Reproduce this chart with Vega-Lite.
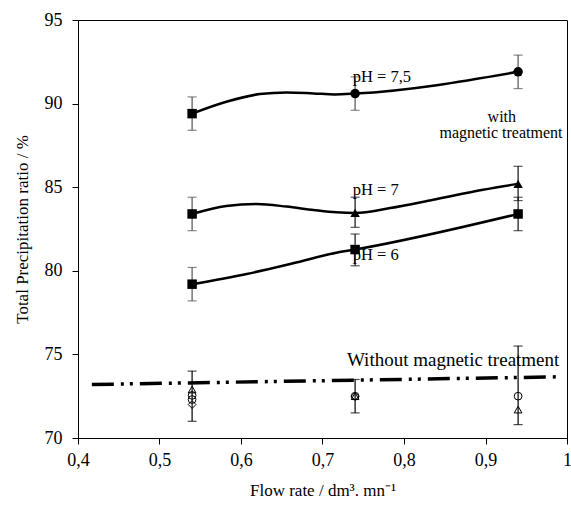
{
  "$schema": "https://vega.github.io/schema/vega-lite/v6.json",
  "autosize": {"type": "none"},
  "padding": {"left": 78, "top": 20, "right": 4, "bottom": 73},
  "width": 489,
  "height": 418,
  "background": "white",
  "config": {
    "font": "Liberation Serif",
    "view": {"stroke": "#000", "strokeWidth": 1},
    "axis": {"grid": false, "domainColor": "#000", "tickColor": "#000", "labelColor": "#000", "titleColor": "#000", "labelFont": "Liberation Serif", "titleFont": "Liberation Serif", "labelFontSize": 18, "titleFontSize": 17, "titleFontWeight": "normal", "tickSize": 6}
  },
  "datasets": {
    "curves": [
      {"s": "7.5", "x": 0.54, "y": 89.4}, {"s": "7.5", "x": 0.582, "y": 90.11}, {"s": "7.5", "x": 0.623, "y": 90.57}, {"s": "7.5", "x": 0.656, "y": 90.67}, {"s": "7.5", "x": 0.689, "y": 90.61}, {"s": "7.5", "x": 0.715, "y": 90.55}, {"s": "7.5", "x": 0.74, "y": 90.6}, {"s": "7.5", "x": 0.94, "y": 91.9},
      {"s": "7", "x": 0.54, "y": 83.4}, {"s": "7", "x": 0.582, "y": 83.88}, {"s": "7", "x": 0.619, "y": 83.99}, {"s": "7", "x": 0.656, "y": 83.84}, {"s": "7", "x": 0.689, "y": 83.64}, {"s": "7", "x": 0.717, "y": 83.5}, {"s": "7", "x": 0.74, "y": 83.46}, {"s": "7", "x": 0.783, "y": 83.75}, {"s": "7", "x": 0.836, "y": 84.25}, {"s": "7", "x": 0.897, "y": 84.85}, {"s": "7", "x": 0.94, "y": 85.2},
      {"s": "6", "x": 0.54, "y": 79.2}, {"s": "6", "x": 0.607, "y": 79.81}, {"s": "6", "x": 0.664, "y": 80.45}, {"s": "6", "x": 0.717, "y": 81.08}, {"s": "6", "x": 0.74, "y": 81.27}, {"s": "6", "x": 0.94, "y": 83.4}
    ],
    "trend": [{"x": 0.417, "y": 73.2}, {"x": 0.99, "y": 73.66}],
    "errs": [
      {"x": 0.54, "lo": 88.4, "hi": 90.4, "c": "#555"}, {"x": 0.74, "lo": 89.6, "hi": 91.6, "c": "#555"}, {"x": 0.94, "lo": 90.9, "hi": 92.9, "c": "#555"},
      {"x": 0.54, "lo": 82.4, "hi": 84.4, "c": "#555"}, {"x": 0.74, "lo": 82.6, "hi": 84.4, "c": "#111"}, {"x": 0.94, "lo": 84.2, "hi": 86.25, "c": "#111"},
      {"x": 0.54, "lo": 78.2, "hi": 80.2, "c": "#555"}, {"x": 0.74, "lo": 80.3, "hi": 82.2, "c": "#111"}, {"x": 0.94, "lo": 82.4, "hi": 84.4, "c": "#111"},
      {"x": 0.54, "lo": 71.0, "hi": 74.0, "c": "#000"}, {"x": 0.74, "lo": 71.5, "hi": 73.5, "c": "#000"}, {"x": 0.94, "lo": 70.8, "hi": 75.5, "c": "#000"}
    ],
    "pts": [
      {"x": 0.54, "y": 89.4, "m": "square", "open": false}, {"x": 0.74, "y": 90.6, "m": "circle", "open": false}, {"x": 0.94, "y": 91.9, "m": "circle", "open": false},
      {"x": 0.54, "y": 83.4, "m": "square", "open": false}, {"x": 0.74, "y": 83.46, "m": "triangle-up", "open": false}, {"x": 0.94, "y": 85.2, "m": "triangle-up", "open": false},
      {"x": 0.54, "y": 79.2, "m": "square", "open": false}, {"x": 0.74, "y": 81.27, "m": "square", "open": false}, {"x": 0.94, "y": 83.4, "m": "square", "open": false},
      {"x": 0.54, "y": 72.9, "m": "triangle-up", "open": true}, {"x": 0.54, "y": 72.55, "m": "circle", "open": true}, {"x": 0.54, "y": 72.3, "m": "circle", "open": true}, {"x": 0.54, "y": 72.0, "m": "diamond", "open": true},
      {"x": 0.74, "y": 72.5, "m": "circle", "open": true}, {"x": 0.74, "y": 72.5, "m": "triangle-up", "open": true}, {"x": 0.74, "y": 72.5, "m": "diamond", "open": true},
      {"x": 0.94, "y": 72.5, "m": "circle", "open": true}, {"x": 0.94, "y": 71.7, "m": "triangle-up", "open": true}
    ],
    "leftLabels": [
      {"x": 0.737, "y": 91.31, "t": "pH = 7,5"},
      {"x": 0.737, "y": 84.53, "t": "pH = 7"},
      {"x": 0.737, "y": 80.65, "t": "pH = 6"}
    ],
    "centerLabels": [
      {"x": 0.92, "y": 88.92, "t": "with"},
      {"x": 0.919, "y": 87.94, "t": "magnetic treatment"}
    ],
    "bottomLabels": [
      {"x": 0.73, "y": 74.3, "t": "Without magnetic treatment"}
    ]
  },
  "encoding": {
    "x": {"field": "x", "type": "quantitative", "scale": {"domain": [0.4, 1], "nice": false, "zero": false},
      "axis": {"title": "Flow rate / dm³. mn⁻¹", "values": [0.4, 0.5, 0.6, 0.7, 0.8, 0.9, 1], "labelExpr": "datum.value == 1 ? '1' : replace(format(datum.value, '.1f'), '.', ',')", "labelFont": "Liberation Serif", "labelPadding": 7, "titlePadding": 13, "labelFlush": false}},
    "y": {"field": "y", "type": "quantitative", "scale": {"domain": [70, 95], "nice": false, "zero": false},
      "axis": {"title": "Total Precipitation ratio  / %", "values": [70, 75, 80, 85, 90, 95], "labelFont": "Liberation Serif", "labelPadding": 10, "titlePadding": 13, "labelFlush": false}}
  },
  "layer": [
    {"data": {"name": "curves"}, "mark": {"type": "line", "interpolate": "monotone", "color": "#000", "strokeWidth": 2.5}, "encoding": {"detail": {"field": "s"}}},
    {"data": {"name": "trend"}, "mark": {"type": "line", "color": "#000", "strokeWidth": 3.5, "strokeDash": [22, 7, 3, 6, 3, 7], "strokeCap": "butt"}, "encoding": {}},
    {"data": {"name": "errs"}, "mark": {"type": "rule", "strokeWidth": 1.2}, "encoding": {"y": {"field": "lo", "type": "quantitative"}, "y2": {"field": "hi"}, "color": {"field": "c", "type": "nominal", "scale": null}}},
    {"data": {"name": "errs"}, "mark": {"type": "tick", "orient": "horizontal", "size": 9, "thickness": 1.2}, "encoding": {"y": {"field": "lo", "type": "quantitative"}, "color": {"field": "c", "type": "nominal", "scale": null}}},
    {"data": {"name": "errs"}, "mark": {"type": "tick", "orient": "horizontal", "size": 9, "thickness": 1.2}, "encoding": {"y": {"field": "hi", "type": "quantitative"}, "color": {"field": "c", "type": "nominal", "scale": null}}},
    {"data": {"name": "pts"}, "transform": [{"filter": "!datum.open"}], "mark": {"type": "point", "filled": true, "color": "#000", "opacity": 1, "size": 90}, "encoding": {"shape": {"field": "m", "type": "nominal", "scale": null}}},
    {"data": {"name": "pts"}, "transform": [{"filter": "datum.open"}], "mark": {"type": "point", "filled": false, "color": "#000", "opacity": 1, "size": 60, "strokeWidth": 1}, "encoding": {"shape": {"field": "m", "type": "nominal", "scale": null}}},
    {"data": {"name": "leftLabels"}, "mark": {"type": "text", "font": "Liberation Serif", "fontSize": 16.5, "color": "#000", "align": "left", "baseline": "alphabetic"}, "encoding": {"text": {"field": "t"}}},
    {"data": {"name": "centerLabels"}, "mark": {"type": "text", "font": "Liberation Serif", "fontSize": 16, "color": "#000", "align": "center", "baseline": "alphabetic"}, "encoding": {"text": {"field": "t"}}},
    {"data": {"name": "bottomLabels"}, "mark": {"type": "text", "font": "Liberation Serif", "fontSize": 19, "color": "#000", "align": "left", "baseline": "alphabetic"}, "encoding": {"text": {"field": "t"}}}
  ]
}
